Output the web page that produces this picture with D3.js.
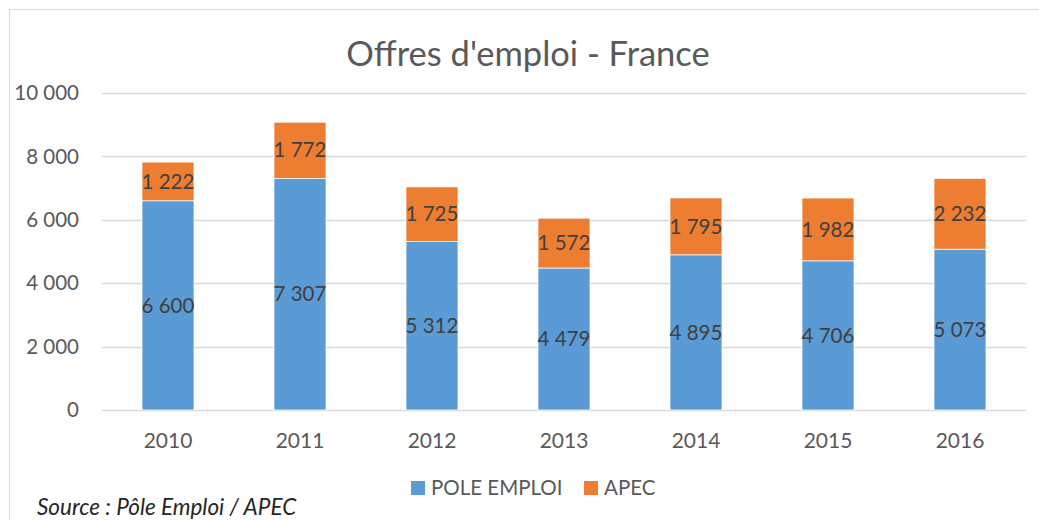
<!DOCTYPE html>
<html>
<head>
<meta charset="utf-8">
<script src="https://cdn.jsdelivr.net/npm/d3@7"></script>
<style>
  body { margin: 0; background: #fff; }
  text { font-family: Lato, "Open Sans", sans-serif; }
</style>
</head>
<body>
<svg width="1039" height="520"></svg>
<script>
var years = ["2010", "2011", "2012", "2013", "2014", "2015", "2016"];
var poleEmploi = [6600, 7307, 5312, 4479, 4895, 4706, 5073];
var apec = [1222, 1772, 1725, 1572, 1795, 1982, 2232];
var seriesNames = ["POLE EMPLOI", "APEC"];
var colors = ["#5B9BD5", "#ED7D31"];
var yTicks = [0, 2000, 4000, 6000, 8000, 10000];

var svg = d3.select("svg");

// chart frame
svg.append("rect")
   .attr("x", 9.5).attr("y", 9.5)
   .attr("width", 1040).attr("height", 520)
   .attr("fill", "none").attr("stroke", "#d9d9d9");

var margin = {left: 102, right: 1026, top: 93, bottom: 410};

var x = d3.scaleBand()
   .domain(years)
   .range([margin.left, margin.right])
   .paddingInner(0.606).paddingOuter(0.303);

var y = d3.scaleLinear()
   .domain([0, 10000])
   .range([margin.bottom, margin.top]);

var fmt = function (v) { return d3.format(",")(v).replace(/,/g, " "); };

// gridlines
svg.append("g")
   .selectAll("line")
   .data(yTicks)
   .enter().append("line")
   .attr("x1", margin.left).attr("x2", margin.right)
   .attr("y1", function (d) { return Math.round(y(d)) + 0.5; })
   .attr("y2", function (d) { return Math.round(y(d)) + 0.5; })
   .attr("stroke", "#d9d9d9").attr("stroke-width", 1.5);

// y labels
svg.append("g")
   .selectAll("text")
   .data(yTicks)
   .enter().append("text")
   .attr("x", 79)
   .attr("y", function (d) { return y(d); })
   .attr("dy", "0.35em")
   .attr("text-anchor", "end")
   .attr("font-size", 20.5)
   .attr("fill", "#595959")
   .text(fmt);

// x labels
svg.append("g")
   .selectAll("text")
   .data(years)
   .enter().append("text")
   .attr("x", function (d) { return x(d) + x.bandwidth() / 2; })
   .attr("y", 448)
   .attr("text-anchor", "middle")
   .attr("font-size", 21)
   .attr("fill", "#595959")
   .text(function (d) { return d; });

// stacked data
var rows = years.map(function (yr, i) {
  return {year: yr, pole: poleEmploi[i], apec: apec[i]};
});
var stack = d3.stack().keys(["pole", "apec"])(rows);

var layers = svg.append("g")
   .selectAll("g")
   .data(stack)
   .enter().append("g")
   .attr("fill", function (d, i) { return colors[i]; });

layers.selectAll("rect")
   .data(function (d) { return d; })
   .enter().append("rect")
   .attr("x", function (d) { return x(d.data.year); })
   .attr("y", function (d) { return y(d[1]); })
   .attr("width", x.bandwidth())
   .attr("height", function (d) { return y(d[0]) - y(d[1]); })
   .attr("stroke", "#fff").attr("stroke-width", 0.75);

layers.selectAll("text")
   .data(function (d) { return d; })
   .enter().append("text")
   .attr("x", function (d) { return x(d.data.year) + x.bandwidth() / 2; })
   .attr("y", function (d) { return (y(d[0]) + y(d[1])) / 2; })
   .attr("dy", "0.35em")
   .attr("text-anchor", "middle")
   .attr("font-size", 20.5)
   .attr("fill", "#404040")
   .text(function (d) { return fmt(d[1] - d[0]); });

// title
svg.append("text")
   .attr("x", 528).attr("y", 54)
   .attr("dy", "0.35em")
   .attr("text-anchor", "middle")
   .attr("font-size", 34.5)
   .attr("fill", "#595959")
   .text("Offres d'emploi - France");

// legend
var legend = svg.append("g")
   .selectAll("g")
   .data(seriesNames)
   .enter().append("g")
   .attr("transform", function (d, i) { return "translate(" + [411, 584][i] + ",481)"; });

legend.append("rect")
   .attr("width", 14).attr("height", 14)
   .attr("fill", function (d, i) { return colors[i]; });

legend.append("text")
   .attr("x", 20).attr("y", 7)
   .attr("dy", "0.35em")
   .attr("font-size", 20.5)
   .attr("fill", "#595959")
   .text(function (d) { return d; });

// source
svg.append("text")
   .attr("x", 37).attr("y", 515)
   .attr("font-size", 22.5)
   .attr("font-style", "italic")
   .attr("fill", "#262626")
   .text("Source : Pôle Emploi / APEC");
</script>
</body>
</html>
